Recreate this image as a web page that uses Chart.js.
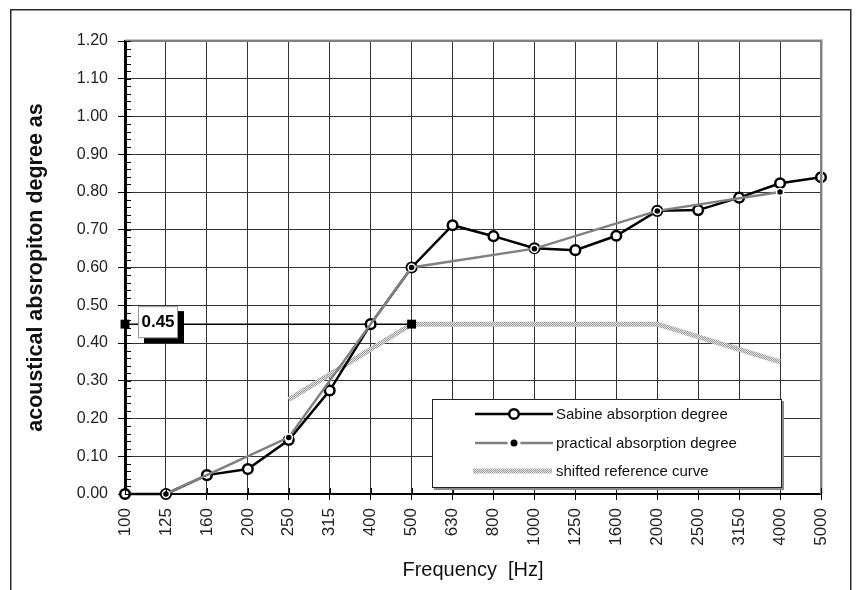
<!DOCTYPE html>
<html><head><meta charset="utf-8">
<script src="https://cdn.jsdelivr.net/npm/chart.js@4.4.1/dist/chart.umd.min.js"></script>
<style>html,body{margin:0;padding:0;background:#fff}#wrap{width:856px;height:590px}</style>
</head><body><div id="wrap"><canvas id="c" width="856" height="590"></canvas></div>
<script>
// ---- data ----
const categories = ['100','125','160','200','250','315','400','500','630','800','1000','1250','1600','2000','2500','3150','4000','5000'];
const sabine    = [0.00, 0.00, 0.05, 0.066, 0.143, 0.274, 0.45, 0.60, 0.712, 0.683, 0.651, 0.646, 0.684, 0.75, 0.752, 0.785, 0.823, 0.839];
const practical = [null, 0.00, null, null, 0.15, null, null, 0.60, null, null, 0.65, null, null, 0.75, null, null, 0.80, null];
const reference = [null, null, null, null, 0.25, null, null, 0.45, null, null, 0.45, null, null, 0.45, null, null, 0.35, null];
const indicator = [0.45, null, null, null, null, null, null, 0.45, null, null, null, null, null, null, null, null, null, null];
const indicatorLabel = '0.45';
const seriesNames = ['Sabine absorption degree', 'practical absorption degree', 'shifted reference curve'];
const yTitle = 'acoustical absropiton degree as';
const xTitle = 'Frequency  [Hz]';

// hatched pattern for the reference curve
function makePattern(){
  const p = document.createElement('canvas'); p.width = 2; p.height = 2;
  const c = p.getContext('2d');
  c.fillStyle = '#e4e4e4'; c.fillRect(0,0,2,2);
  c.fillStyle = '#9a9a9a'; c.fillRect(0,0,1,1); c.fillRect(1,1,1,1);
  return document.getElementById('c').getContext('2d').createPattern(p,'repeat');
}
const refPattern = makePattern();

const SANS = "'Liberation Sans', Arial, sans-serif";
const NARROW = "'Liberation Sans Narrow', 'Arial Narrow', 'Liberation Sans', sans-serif";

const decor = {
  id: 'decor',
  beforeDraw(chart){
    const ctx = chart.ctx;
    ctx.save();
    ctx.fillStyle = '#fff'; ctx.fillRect(0,0,chart.width,chart.height);
    ctx.strokeStyle = '#2a2a2a'; ctx.lineWidth = 1.5;
    ctx.beginPath();
    ctx.moveTo(10.75, chart.height+5); ctx.lineTo(10.75, 9.75); ctx.lineTo(850.75, 9.75); ctx.lineTo(850.75, chart.height+5);
    ctx.stroke();
    ctx.restore();
  },
  afterDatasetsDraw(chart){
    const ctx = chart.ctx, a = chart.chartArea, y = chart.scales.y, x = chart.scales.x;
    ctx.save();
    // top/right frame of plot
    ctx.strokeStyle = '#c8c8c8'; ctx.lineWidth = 1;
    ctx.beginPath(); ctx.moveTo(a.left, a.top-1.5); ctx.lineTo(a.right+1.5, a.top-1.5); ctx.lineTo(a.right+1.5, a.bottom); ctx.stroke();
    ctx.strokeStyle = '#808080'; ctx.lineWidth = 2;
    ctx.beginPath(); ctx.moveTo(a.left, a.top); ctx.lineTo(a.right, a.top); ctx.lineTo(a.right, a.bottom); ctx.stroke();
    // minor ticks on y axis (inside)
    ctx.strokeStyle = '#000'; ctx.lineWidth = 1;
    for (let i = 0; i <= 60; i++){
      const py = Math.round(y.getPixelForValue(i*0.02)) + 0.5;
      ctx.beginPath(); ctx.moveTo(a.left, py); ctx.lineTo(a.left+6, py); ctx.stroke();
    }
    // x tick marks inside
    for (let i = 0; i < categories.length; i++){
      const px = Math.round(x.getPixelForValue(i)) + 0.5;
      ctx.beginPath(); ctx.moveTo(px, a.bottom); ctx.lineTo(px, a.bottom-6); ctx.stroke();
    }
    // value label box
    const px0 = x.getPixelForValue(0), py0 = y.getPixelForValue(indicator[0]);
    const bx = px0 + 13, by = py0 - 18, bw = 40, bh = 32;
    ctx.fillStyle = '#000'; ctx.fillRect(bx+6, by+5, bw, bh);
    ctx.fillStyle = '#fff'; ctx.fillRect(bx, by, bw, bh);
    ctx.strokeStyle = '#999'; ctx.lineWidth = 1; ctx.strokeRect(bx+0.5, by+0.5, bw-1, bh-1);
    ctx.fillStyle = '#000'; ctx.font = "bold 17px " + SANS; ctx.textAlign = 'center'; ctx.textBaseline = 'alphabetic';
    ctx.fillText(indicatorLabel, bx + bw/2, by + 21);
    // legend
    const lx = 432, ly = 399, lw = 350, lh = 89;
    ctx.fillStyle = '#8a8a8a'; ctx.fillRect(lx+2, ly+2, lw, lh);
    ctx.fillStyle = '#fff'; ctx.fillRect(lx, ly, lw, lh);
    ctx.strokeStyle = '#222'; ctx.lineWidth = 1; ctx.strokeRect(lx+0.5, ly+0.5, lw-1, lh-1);
    const ds = chart.data.datasets;
    const rows = [414, 443, 471];
    const x1 = 475, x2 = 553, xm = 514;
    // Sabine
    ctx.strokeStyle = ds[0].borderColor; ctx.lineWidth = ds[0].borderWidth;
    ctx.beginPath(); ctx.moveTo(x1, rows[0]); ctx.lineTo(x2, rows[0]); ctx.stroke();
    ctx.fillStyle = '#fff'; ctx.lineWidth = ds[0].pointBorderWidth;
    ctx.beginPath(); ctx.arc(xm, rows[0], ds[0].pointRadius, 0, Math.PI*2); ctx.fill(); ctx.stroke();
    // practical
    ctx.strokeStyle = ds[1].borderColor; ctx.lineWidth = ds[1].borderWidth;
    ctx.beginPath(); ctx.moveTo(x1, rows[1]); ctx.lineTo(x2, rows[1]); ctx.stroke();
    ctx.fillStyle = '#fff'; ctx.beginPath(); ctx.arc(xm, rows[1], 6.5, 0, Math.PI*2); ctx.fill();
    ctx.fillStyle = '#000'; ctx.beginPath(); ctx.arc(xm, rows[1], 3.5, 0, Math.PI*2); ctx.fill();
    // reference
    ctx.strokeStyle = refPattern; ctx.lineWidth = ds[2].borderWidth; ctx.lineCap = 'butt';
    ctx.beginPath(); ctx.moveTo(473, rows[2]); ctx.lineTo(552, rows[2]); ctx.stroke();
    ctx.fillStyle = '#111'; ctx.font = "15px " + SANS; ctx.textAlign = 'left'; ctx.textBaseline = 'middle';
    for (let i = 0; i < 3; i++) ctx.fillText(seriesNames[i], 556, rows[i]+1);
    ctx.restore();
  }
};

new Chart(document.getElementById('c'), {
  type: 'line',
  data: {
    labels: categories,
    datasets: [
      { label: seriesNames[0], data: sabine, borderColor: '#000', borderWidth: 2.5, pointRadius: 4.8,
        pointBackgroundColor: '#fff', pointBorderColor: '#000', pointBorderWidth: 2.5, order: 1, clip: false, tension: 0 },
      { label: seriesNames[1], data: practical, borderColor: '#808080', borderWidth: 2.5, pointRadius: 3.5,
        pointBackgroundColor: '#000', pointBorderColor: '#fff', pointBorderWidth: 1.5, spanGaps: true, order: 0, clip: false },
      { label: seriesNames[2], data: reference, borderColor: refPattern, borderWidth: 5, pointRadius: 0,
        spanGaps: true, order: 3, clip: false, borderCapStyle: 'butt' },
      { label: 'indicator', data: indicator, borderColor: '#000', borderWidth: 1.5, pointStyle: 'rect', pointRadius: 6.3,
        pointBackgroundColor: '#000', pointBorderWidth: 0, spanGaps: true, order: 2, clip: false }
    ]
  },
  options: {
    responsive: false, animation: false, devicePixelRatio: 1,
    layout: { padding: { left: 0, top: 41, right: 35, bottom: 0 } },
    plugins: { legend: { display: false }, tooltip: { enabled: false } },
    scales: {
      x: {
        type: 'category', offset: false,
        grid: { color: '#333', lineWidth: 1, tickLength: 6, tickColor: '#000' },
        border: { color: '#000', width: 2 },
        ticks: { color: '#222', font: { family: NARROW, size: 17 }, minRotation: 90, maxRotation: 90, padding: 8, autoSkip: false },
        title: { display: true, text: xTitle, color: '#111', font: { family: SANS, size: 20 }, padding: { top: 0, bottom: 8 } },
        afterFit: s => { s.height = 96; }
      },
      y: {
        min: 0, max: 1.2,
        grid: { color: '#333', lineWidth: 1, tickLength: 7, tickColor: '#000' },
        border: { color: '#000', width: 3 },
        ticks: { stepSize: 0.1, color: '#222', font: { family: SANS, size: 16 }, padding: 10,
          callback: v => v.toFixed(2) },
        title: { display: true, text: yTitle, color: '#111', font: { family: SANS, size: 21.5, weight: 'bold' }, padding: { top: 23, bottom: 0 } },
        afterFit: s => { s.width = 125; }
      }
    }
  },
  plugins: [decor]
});
</script></body></html>
